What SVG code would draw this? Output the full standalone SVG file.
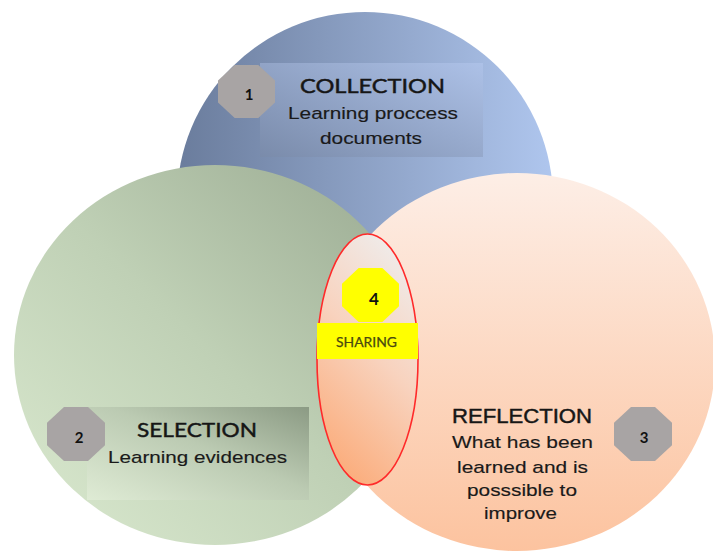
<svg xmlns="http://www.w3.org/2000/svg" width="713" height="551" viewBox="0 0 713 551">
  <defs>
    <linearGradient id="gBlue" x1="0" y1="0" x2="1" y2="0">
      <stop offset="0" stop-color="#6a7c9c"/>
      <stop offset="1" stop-color="#afc6ee"/>
    </linearGradient>
    <linearGradient id="gGreen" x1="0" y1="1" x2="1" y2="0">
      <stop offset="0" stop-color="#dbead0"/>
      <stop offset="0.5" stop-color="#bfd0b5"/>
      <stop offset="1" stop-color="#98a890"/>
    </linearGradient>
    <linearGradient id="gOrange" x1="0" y1="0" x2="0" y2="1">
      <stop offset="0" stop-color="#fdeee6"/>
      <stop offset="1" stop-color="#fcc39f"/>
    </linearGradient>
    <linearGradient id="gLens" x1="0.7" y1="0" x2="0.3" y2="1">
      <stop offset="0" stop-color="#efeceb"/>
      <stop offset="0.45" stop-color="#f8d3bf"/>
      <stop offset="1" stop-color="#fbab79"/>
    </linearGradient>
    <linearGradient id="gBox1" x1="0" y1="1" x2="1" y2="0">
      <stop offset="0" stop-color="#7a8baa"/>
      <stop offset="1" stop-color="#aec2e8"/>
    </linearGradient>
    <linearGradient id="gBox2" x1="0" y1="1" x2="1" y2="0">
      <stop offset="0" stop-color="#e0ecd6"/>
      <stop offset="0.55" stop-color="#bac9b1"/>
      <stop offset="1" stop-color="#86957f"/>
    </linearGradient>
  </defs>
  <style>
    .oct { fill: #a8a4a4; }
    .num { font-family: Lato, "Open Sans", "Liberation Sans", sans-serif; font-weight: 700; font-size: 15px; fill: #111111; text-anchor: middle; }
    .title { font-family: Lato, "Open Sans", "Liberation Sans", sans-serif; font-size: 19.5px; fill: #161616; stroke: #161616; stroke-width: 0.45; }
    .rtitle { font-family: "Liberation Sans", Arial, sans-serif; font-size: 20px; fill: #161616; stroke: #161616; stroke-width: 0.45; }
    .body { font-family: "Liberation Sans", Arial, sans-serif; font-size: 17px; fill: #1a1a1a; stroke: #1a1a1a; stroke-width: 0.15; }
    .share { font-family: Lato, "Open Sans", "Liberation Sans", sans-serif; font-size: 13px; fill: #4a4a10; stroke: #4a4a10; stroke-width: 0.25; }
  </style>

  <g id="circle-collection">
    <circle cx="365" cy="200" r="188" fill="url(#gBlue)"/>
  </g>
  <g id="circle-selection">
    <ellipse cx="215" cy="355" rx="201" ry="190" fill="url(#gGreen)"/>
  </g>
  <g id="circle-reflection">
    <ellipse cx="517" cy="362" rx="198" ry="189" fill="url(#gOrange)"/>
  </g>

  <g id="connectors"/>

  <g id="node-collection">
    <rect x="260" y="63" width="223" height="94" fill="url(#gBox1)" opacity="0.9"/>
    <polygon class="oct" points="234.7,65 258.3,65 275,80.5 275,102.5 258.3,118 234.7,118 218,102.5 218,80.5"/>
    <text class="num" x="249" y="100">1</text>
    <text class="title" x="300" y="93" textLength="145" lengthAdjust="spacingAndGlyphs">COLLECTION</text>
    <text class="body" x="288" y="119" textLength="170" lengthAdjust="spacingAndGlyphs">Learning proccess</text>
    <text class="body" x="320" y="144" textLength="102" lengthAdjust="spacingAndGlyphs">documents</text>
  </g>

  <g id="node-selection">
    <rect x="87" y="407" width="222" height="93" fill="url(#gBox2)" opacity="0.9"/>
    <polygon class="oct" points="64,407 88,407 105,422.8 105,445.2 88,461 64,461 47,445.2 47,422.8"/>
    <text class="num" x="79" y="443">2</text>
    <text class="title" x="137" y="437" textLength="120" lengthAdjust="spacingAndGlyphs">SELECTION</text>
    <text class="body" x="108" y="463" textLength="179" lengthAdjust="spacingAndGlyphs">Learning evidences</text>
  </g>

  <g id="node-reflection">
    <polygon class="oct" points="631,407 655,407 672,422.8 672,445.2 655,461 631,461 614,445.2 614,422.8"/>
    <text class="num" x="644" y="443">3</text>
    <text class="rtitle" x="452" y="423" textLength="140" lengthAdjust="spacingAndGlyphs">REFLECTION</text>
    <text class="body" x="452" y="448" textLength="141" lengthAdjust="spacingAndGlyphs">What has been</text>
    <text class="body" x="457" y="473" textLength="131" lengthAdjust="spacingAndGlyphs">learned and is</text>
    <text class="body" x="467" y="496" textLength="110" lengthAdjust="spacingAndGlyphs">posssible to</text>
    <text class="body" x="484" y="519" textLength="73" lengthAdjust="spacingAndGlyphs">improve</text>
  </g>

  <g id="node-sharing">
    <ellipse cx="367.5" cy="359.5" rx="50.5" ry="125.5" fill="url(#gLens)" stroke="#ff2a2a" stroke-width="1.6"/>
    <polygon points="358.7,268 382.3,268 399,283.8 399,306.2 382.3,322 358.7,322 342,306.2 342,283.8" fill="#ffff00"/>
    <rect x="317" y="323" width="101" height="36" fill="#ffff00"/>
    <text class="num" x="374" y="305" style="font-size:17px">4</text>
    <text class="share" x="336" y="347" textLength="61" lengthAdjust="spacingAndGlyphs">SHARING</text>
  </g>
</svg>
